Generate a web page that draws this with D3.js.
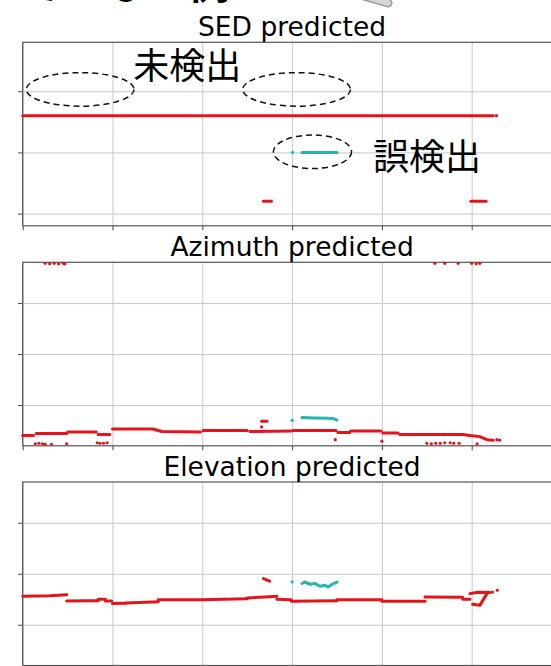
<!DOCTYPE html>
<html>
<head>
<meta charset="utf-8">
<script src="https://cdn.jsdelivr.net/npm/d3@7"></script>
<style>
  body { margin: 0; background: #fff; }
  svg { display: block; }
</style>
</head>
<body>
<svg id="chart"></svg>
<script>
// x axis = frame index, ticks every 100 frames
var frameTicks = [0, 100, 200, 300, 400, 500, 600];

// SED panel (class index)
var sedTicks = [0, 5, 10];
var sedRed = [[[0, 8], [524, 8]], [[268, 1], [277, 1]], [[499, 1], [516, 1]]];
var sedRedDots = [[527.5, 8]];
var sedCyan = [[[311, 5], [350, 5]]];
var sedCyanDots = [[300.5, 5]];

// Azimuth panel (degrees)
var azTicks = [-100, 0, 100];
var azRed = [
  [[0, -160], [12, -160]],
  [[15, -156], [49, -156]],
  [[50, -153], [82, -153]],
  [[84, -158], [97, -158]],
  [[100, -147], [145, -147], [155, -152], [198, -153]],
  [[201, -150], [250, -150]],
  [[253, -152], [299, -151]],
  [[301, -150], [349, -150]],
  [[351, -154], [364, -154]],
  [[365, -151], [399, -151]],
  [[401, -155], [418, -155]],
  [[420, -158], [490, -158], [498, -160], [509, -162], [517, -168], [524, -169]],
  [[266, -132], [272, -132]]
];
var azRedDots = [[266, -143], [348, -168], [400, -171], [528, -168], [531, -169],
  [14, -176], [18, -175], [22, -176], [25, -177], [32, -177], [49, -176],
  [83, -174], [86, -175], [90, -175], [94, -174],
  [450, -175], [455, -176], [460, -175], [465, -175], [470, -174], [476, -174],
  [480, -175], [486, -175], [506, -176],
  [25, 178], [30, 177], [35, 178], [40, 177], [45, 178], [47, 177],
  [459, 178], [470, 178], [485, 178], [500, 178], [505, 177], [509, 178]];
var azCyan = [[[311, -124.5], [325, -125.5], [340, -126], [347, -127], [350, -129.5]]];
var azCyanDots = [[300, -130]];

// Elevation panel (degrees)
var elTicks = [-50, 0, 50];
var elRed = [
  [[0, -22], [30, -21.5], [49, -20.5]],
  [[49, -26.7], [70, -26.5], [84, -26.5]],
  [[84, -25], [92, -25]],
  [[92, -26.7], [99, -26.7]],
  [[100, -29.3], [115, -29]],
  [[115, -28.7], [151, -27.5]],
  [[151, -25.4], [198, -25.4], [250, -24.5]],
  [[250, -23.8], [275, -22.5], [283, -22]],
  [[283, -25], [299, -25.5]],
  [[299, -27], [350, -26.5]],
  [[350, -25.4], [400, -25.4]],
  [[400, -27], [448, -27]],
  [[448, -22.8], [490, -23]],
  [[490, -25.1], [498, -25]],
  [[498, -19.5], [507, -18.2], [520, -18.5]],
  [[501, -30], [509, -31], [518, -18]],
  [[268, -4.7], [275, -7.2]]
];
var elRedDots = [[528.5, -16.2], [523, -18]];
var elCyan = [[[311, -9.6], [314, -8.1], [320, -10.3], [325.5, -9.6], [331, -12.3],
  [336.6, -11.3], [340, -13], [346, -9.6], [350, -8.1]]];
var elCyanDots = [[300, -8]];

var RED = "#e3141b";
var CYAN = "#27b5ae";

var svg = d3.select("#chart").attr("width", 551).attr("height", 666);

var left = 22.7, right = 561.5, panelH = 183.5;
var x = d3.scaleLinear().domain([0, 600]).range([left, right]);

// slide heading, cut off at the top of the picture
svg.append("text")
  .attr("x", 230).attr("y", -1)
  .attr("text-anchor", "end")
  .attr("font-family", "Noto Sans CJK JP")
  .attr("font-weight", "bold")
  .attr("font-size", "42px")
  .text("ていない例");
svg.append("path")
  .attr("d", "M350,-8 L388,3")
  .style("stroke", "#9a9a9a").style("stroke-width", 9).style("stroke-linecap", "round");
svg.append("path")
  .attr("d", "M350,-8 L388,3")
  .style("stroke", "#d6d6d6").style("stroke-width", 6).style("stroke-linecap", "round");

var panels = [
  {title: "SED predicted", top: 42.3, domain: [-1, 14], ticks: sedTicks,
   red: sedRed, redDots: sedRedDots, cyan: sedCyan, cyanDots: sedCyanDots},
  {title: "Azimuth predicted", top: 262.3, domain: [-180, 180], ticks: azTicks,
   red: azRed, redDots: azRedDots, cyan: azCyan, cyanDots: azCyanDots},
  {title: "Elevation predicted", top: 482, domain: [-90, 90], ticks: elTicks,
   red: elRed, redDots: elRedDots, cyan: elCyan, cyanDots: elCyanDots}
];

var yScales = [];

panels.forEach(function(p) {
  var y = d3.scaleLinear().domain(p.domain).range([p.top + panelH, p.top]);
  yScales.push(y);
  var g = svg.append("g");

  // grid
  g.append("g")
    .attr("transform", "translate(0," + (p.top + panelH) + ")")
    .call(d3.axisBottom(x).tickValues(frameTicks).tickSize(-panelH).tickFormat(""))
    .call(function(s) { s.select(".domain").remove(); })
    .selectAll("line").style("stroke", "#c8c8c8").style("stroke-width", 1);
  g.append("g")
    .attr("transform", "translate(" + left + ",0)")
    .call(d3.axisLeft(y).tickValues(p.ticks).tickSize(-(right - left)).tickFormat(""))
    .call(function(s) { s.select(".domain").remove(); })
    .selectAll("line").style("stroke", "#c8c8c8").style("stroke-width", 1);

  // outward ticks
  g.append("g")
    .attr("transform", "translate(0," + (p.top + panelH) + ")")
    .call(d3.axisBottom(x).tickValues(frameTicks).tickSize(4.5).tickFormat(""))
    .call(function(s) { s.select(".domain").remove(); })
    .selectAll("line").style("stroke", "#444");
  g.append("g")
    .attr("transform", "translate(" + left + ",0)")
    .call(d3.axisLeft(y).tickValues(p.ticks).tickSize(4.5).tickFormat(""))
    .call(function(s) { s.select(".domain").remove(); })
    .selectAll("line").style("stroke", "#444");

  // frame
  g.append("rect")
    .attr("x", left).attr("y", p.top)
    .attr("width", right - left).attr("height", panelH)
    .style("fill", "none").style("stroke", "#555").style("stroke-width", 1.2);

  // title
  g.append("text")
    .attr("x", x(300)).attr("y", p.top - 6)
    .attr("text-anchor", "middle")
    .attr("font-family", "DejaVu Sans")
    .attr("font-size", "26.5px")
    .text(p.title);

  var line = d3.line().x(function(d) { return x(d[0]); }).y(function(d) { return y(d[1]); });

  [[p.red, RED], [p.cyan, CYAN]].forEach(function(pair) {
    g.selectAll(null).data(pair[0]).enter().append("path")
      .attr("d", line)
      .style("fill", "none").style("stroke", pair[1])
      .style("stroke-width", 3).style("stroke-linecap", "round").style("stroke-linejoin", "round");
  });
  [[p.redDots, RED], [p.cyanDots, CYAN]].forEach(function(pair) {
    g.selectAll(null).data(pair[0]).enter().append("circle")
      .attr("cx", function(d) { return x(d[0]); })
      .attr("cy", function(d) { return y(d[1]); })
      .attr("r", 1.6)
      .style("fill", pair[1]);
  });
});

// annotations on the SED panel
var ySed = yScales[0];
var ellipses = [
  {cx: 64, cy: 10.15, rx: 60, ry: 1.37},
  {cx: 305, cy: 10.15, rx: 60, ry: 1.37},
  {cx: 322.7, cy: 5.05, rx: 43.5, ry: 1.37}
];
svg.selectAll(null).data(ellipses).enter().append("ellipse")
  .attr("cx", function(d) { return x(d.cx); })
  .attr("cy", function(d) { return ySed(d.cy); })
  .attr("rx", function(d) { return x(d.rx) - x(0); })
  .attr("ry", function(d) { return ySed(0) - ySed(d.ry); })
  .style("fill", "none").style("stroke", "#111")
  .style("stroke-width", 1.5).style("stroke-dasharray", "6,4");

var labels = [
  {text: "未検出", f: 123, v: 10.96},
  {text: "誤検出", f: 390, v: 3.56}
];
svg.selectAll(null).data(labels).enter().append("text")
  .attr("x", function(d) { return x(d.f); })
  .attr("y", function(d) { return ySed(d.v); })
  .attr("font-family", "Noto Sans CJK JP")
  .attr("font-size", "36px")
  .text(function(d) { return d.text; });
</script>
</body>
</html>
